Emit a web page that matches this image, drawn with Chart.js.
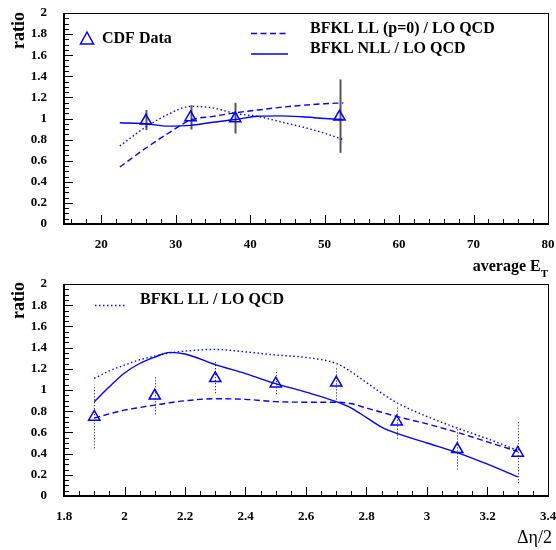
<!DOCTYPE html>
<html>
<head>
<meta charset="utf-8">
<script src="https://cdn.jsdelivr.net/npm/chart.js@4.4.0/dist/chart.umd.min.js"></script>
<style>
  html, body { margin: 0; padding: 0; background: #fff; }
  #wrap { position: relative; width: 556px; height: 550px; }
  .box { position: absolute; left: 0; width: 556px; }
</style>
</head>
<body>
<div id="wrap">
  <div class="box" style="top:0;height:250px"><canvas id="etChart" width="556" height="250"></canvas></div>
  <div class="box" style="top:250px;height:300px"><canvas id="etaChart" width="556" height="300"></canvas></div>
</div>
<script>
// top panel: ratio vs average E_T
var etPoints = [26, 32, 38, 52];
var etData = [0.978, 1.01, 1.0, 1.016];
var etErrLow = [0.89, 0.896, 0.858, 0.675];
var etErrHigh = [1.08, 1.126, 1.148, 1.37];

var etCurveX = [22.5, 26, 29, 32, 35, 38, 41, 44, 47, 50, 52.5];
var etNll = [0.96, 0.95, 0.928, 0.935, 0.965, 0.99, 1.022, 1.025, 1.016, 1.0, 0.99];
var etLLp0 = [0.54, 0.72, 0.86, 0.985, 1.02, 1.054, 1.08, 1.105, 1.125, 1.14, 1.148];
var etLL = [0.74, 0.92, 1.04, 1.115, 1.10, 1.048, 1.02, 0.97, 0.92, 0.86, 0.80];

// bottom panel: ratio vs delta eta / 2
var etaPoints = [1.9, 2.1, 2.3, 2.5, 2.7, 2.9, 3.1, 3.3];
var etaData = [0.746, 0.945, 1.11, 1.06, 1.068, 0.70, 0.44, 0.406];
var etaErrLow = [0.45, 0.77, 0.97, 0.96, 0.91, 0.54, 0.25, 0.12];
var etaErrHigh = [1.05, 1.13, 1.27, 1.19, 1.21, 0.85, 0.65, 0.71];

var etaCurveX = [1.9, 1.95, 2.0, 2.05, 2.1, 2.15, 2.2, 2.3, 2.4, 2.5, 2.6, 2.7, 2.75, 2.8, 2.85, 2.9, 3.0, 3.1, 3.2, 3.3];
var etaNll = [0.89, 1.03, 1.16, 1.25, 1.31, 1.355, 1.34, 1.24, 1.155, 1.06, 0.98, 0.89, 0.83, 0.74, 0.65, 0.59, 0.5, 0.41, 0.3, 0.18];
var etaLLp0 = [0.735, 0.775, 0.81, 0.835, 0.857, 0.88, 0.898, 0.918, 0.912, 0.89, 0.885, 0.885, 0.87, 0.83, 0.79, 0.75, 0.68, 0.6, 0.51, 0.42];
var etaLL = [1.11, 1.18, 1.235, 1.285, 1.32, 1.35, 1.367, 1.383, 1.36, 1.33, 1.307, 1.25, 1.17, 1.07, 0.97, 0.88, 0.75, 0.64, 0.54, 0.43];

var yTicks = [0, 0.2, 0.4, 0.6, 0.8, 1, 1.2, 1.4, 1.6, 1.8, 2];
var etTicks = [20, 30, 40, 50, 60, 70, 80];
var etaTicks = [1.8, 2, 2.2, 2.4, 2.6, 2.8, 3, 3.2, 3.4];

var BLUE = '#0000ff';
var SERIF = '"Liberation Serif", "Times New Roman", serif';

var pairs = function(xs, ys) {
  return xs.map(function(x, i) { return { x: x, y: ys[i] }; });
};

var curve = function(xs, ys, dash) {
  return {
    type: 'line',
    data: pairs(xs, ys),
    borderColor: BLUE,
    borderWidth: 1.4,
    borderDash: dash,
    pointRadius: 0,
    cubicInterpolationMode: 'monotone',
    fill: false
  };
};

var points = function(xs, ys) {
  return {
    type: 'scatter',
    data: pairs(xs, ys),
    pointStyle: 'triangle',
    pointRadius: 6.5,
    pointBorderColor: BLUE,
    pointBackgroundColor: 'rgba(0,0,0,0)',
    pointBorderWidth: 1.5
  };
};

// per-canvas decoration settings (kept out of chart options so functions are not resolved as scriptable)
var decorCfg = {};

// error bars, frame, inward ticks and text
var decorPlugin = {
  id: 'decor',
  beforeDatasetsDraw: function(chart) {
    var o = decorCfg[chart.canvas.id];
    var ctx = chart.ctx, xs = chart.scales.x, ys = chart.scales.y;
    ctx.save();
    ctx.strokeStyle = o.errColor;
    ctx.lineWidth = o.errWidth;
    ctx.setLineDash(o.errDash);
    o.errX.forEach(function(x, i) {
      var px = Math.round(xs.getPixelForValue(x)) + 0.5;
      ctx.beginPath();
      ctx.moveTo(px, ys.getPixelForValue(o.errLow[i]));
      ctx.lineTo(px, ys.getPixelForValue(o.errHigh[i]));
      ctx.stroke();
    });
    ctx.restore();
  },
  afterDraw: function(chart) {
    var o = decorCfg[chart.canvas.id];
    var ctx = chart.ctx, a = chart.chartArea;
    var xs = chart.scales.x, ys = chart.scales.y;
    ctx.save();
    ctx.strokeStyle = '#000';
    ctx.setLineDash([]);
    // frame
    ctx.lineWidth = 1;
    ctx.strokeRect(a.left + 0.5, a.top + 0.5, a.right - a.left, a.bottom - a.top);
    ctx.lineWidth = 2;
    ctx.beginPath();
    ctx.moveTo(a.left, a.top);
    ctx.lineTo(a.left, a.bottom);
    ctx.lineTo(a.right, a.bottom);
    ctx.stroke();
    ctx.lineWidth = 1;
    // y ticks
    var v, i, p, len;
    for (i = 0; i <= 40; i++) {
      v = i * 0.05;
      p = Math.round(ys.getPixelForValue(v)) + 0.5;
      len = (i % 4 === 0) ? 9 : 5;
      ctx.beginPath();
      ctx.moveTo(a.left, p);
      ctx.lineTo(a.left + len, p);
      ctx.stroke();
    }
    // x ticks
    for (v = o.minorStart; v <= xs.max + 1e-9; v += o.minorStep) {
      p = Math.round(xs.getPixelForValue(v)) + 0.5;
      var q = v / o.majorStep;
      len = Math.abs(q - Math.round(q)) < 1e-6 ? 9 : 5;
      ctx.beginPath();
      ctx.moveTo(p, a.bottom);
      ctx.lineTo(p, a.bottom - len);
      ctx.stroke();
    }
    ctx.restore();
    o.drawText(ctx);
  }
};

var drawRatio = function(ctx, y) {
  ctx.save();
  ctx.fillStyle = '#000';
  ctx.font = 'bold 18px ' + SERIF;
  ctx.translate(24, y);
  ctx.rotate(-Math.PI / 2);
  ctx.textAlign = 'right';
  ctx.textBaseline = 'alphabetic';
  ctx.fillText('ratio', 0, 0);
  ctx.restore();
};

var legendLine = function(ctx, x1, x2, y, dash) {
  ctx.save();
  ctx.strokeStyle = BLUE;
  ctx.lineWidth = 1.4;
  ctx.setLineDash(dash);
  ctx.beginPath();
  ctx.moveTo(x1, y);
  ctx.lineTo(x2, y);
  ctx.stroke();
  ctx.restore();
};

var makeChart = function(id, cfg) {
  var h = cfg.height;
  decorCfg[id] = cfg.decor;
  return new Chart(document.getElementById(id), {
    data: { datasets: cfg.datasets },
    options: {
      responsive: false,
      animation: false,
      devicePixelRatio: 1,
      layout: { padding: { top: cfg.plotTop, right: 7, left: 0, bottom: 0 } },
      plugins: {
        legend: { display: false },
        tooltip: { enabled: false }
      },
      scales: {
        x: {
          type: 'linear',
          min: cfg.xMin,
          max: cfg.xMax,
          grid: { display: false },
          border: { display: false },
          afterBuildTicks: function(s) { s.ticks = cfg.xTicks.map(function(v) { return { value: v }; }); },
          afterFit: function(s) {
            s.height = h - cfg.plotBottom;
            s.paddingLeft = 0;
            s.paddingRight = 0;
          },
          ticks: {
            padding: 5,
            color: '#000',
            maxRotation: 0,
            autoSkip: false,
            font: { family: SERIF, size: 13, weight: 'bold' },
            callback: function(v) { return String(+v.toFixed(2)); }
          }
        },
        y: {
          type: 'linear',
          min: 0,
          max: 2,
          grid: { display: false },
          border: { display: false },
          afterBuildTicks: function(s) { s.ticks = yTicks.map(function(v) { return { value: v }; }); },
          afterFit: function(s) {
            s.width = 64;
            s.paddingTop = 0;
            s.paddingBottom = 0;
          },
          ticks: {
            padding: 9,
            color: '#000',
            autoSkip: false,
            font: { family: SERIF, size: 13, weight: 'bold' },
            callback: function(v) { return String(+v.toFixed(2)); }
          }
        }
      }
    },
    plugins: [decorPlugin]
  });
};

makeChart('etChart', {
  height: 250,
  plotTop: 13,
  plotBottom: 224,
  xMin: 15,
  xMax: 80,
  xTicks: etTicks,
  datasets: [
    curve(etCurveX, etLL, [1.5, 2.5]),
    curve(etCurveX, etLLp0, [6, 3.5]),
    curve(etCurveX, etNll, []),
    points(etPoints, etData)
  ],
  decor: {
    errX: etPoints, errLow: etErrLow, errHigh: etErrHigh,
    errColor: '#555', errWidth: 2, errDash: [],
    minorStart: 16, minorStep: 2, majorStep: 10,
    drawText: function(ctx) {
      drawRatio(ctx, 12);
      // CDF Data marker
      ctx.save();
      ctx.strokeStyle = BLUE;
      ctx.lineWidth = 1.5;
      ctx.beginPath();
      ctx.moveTo(87, 32);
      ctx.lineTo(93.5, 44);
      ctx.lineTo(80.5, 44);
      ctx.closePath();
      ctx.stroke();
      ctx.fillStyle = '#000';
      ctx.font = 'bold 16px ' + SERIF;
      ctx.textBaseline = 'middle';
      ctx.fillText('CDF Data', 102, 39);
      ctx.fillText('BFKL LL (p=0) / LO QCD', 310, 29);
      ctx.fillText('BFKL NLL / LO QCD', 310, 49);
      ctx.restore();
      legendLine(ctx, 251, 288, 33.5, [6, 3.5]);
      legendLine(ctx, 251, 288, 54, []);
    }
  }
});

makeChart('etaChart', {
  height: 300,
  plotTop: 34,
  plotBottom: 246,
  xMin: 1.8,
  xMax: 3.4,
  xTicks: etaTicks,
  datasets: [
    curve(etaCurveX, etaLL, [1.5, 2.5]),
    curve(etaCurveX, etaLLp0, [6, 3.5]),
    curve(etaCurveX, etaNll, []),
    points(etaPoints, etaData)
  ],
  decor: {
    errX: etaPoints, errLow: etaErrLow, errHigh: etaErrHigh,
    errColor: '#333', errWidth: 1, errDash: [1.2, 1.8],
    minorStart: 1.85, minorStep: 0.05, majorStep: 0.2,
    drawText: function(ctx) {
      drawRatio(ctx, 32);
      ctx.save();
      ctx.fillStyle = '#000';
      ctx.font = 'bold 16px ' + SERIF;
      ctx.textBaseline = 'middle';
      ctx.fillText('BFKL LL / LO QCD', 140, 50);
      // average E_T (belongs to the upper panel's x axis)
      ctx.textBaseline = 'alphabetic';
      ctx.textAlign = 'right';
      ctx.font = 'bold 11px ' + SERIF;
      ctx.fillText('T', 548, 27);
      var tw = ctx.measureText('T').width;
      ctx.font = 'bold 16px ' + SERIF;
      ctx.fillText('average E', 548 - tw, 21);
      ctx.font = '18px ' + SERIF;
      ctx.textBaseline = 'middle';
      ctx.fillText('\u0394\u03b7/2', 552, 288);
      ctx.restore();
      legendLine(ctx, 95, 125, 55.5, [1.5, 2.5]);
    }
  }
});
</script>
</body>
</html>
